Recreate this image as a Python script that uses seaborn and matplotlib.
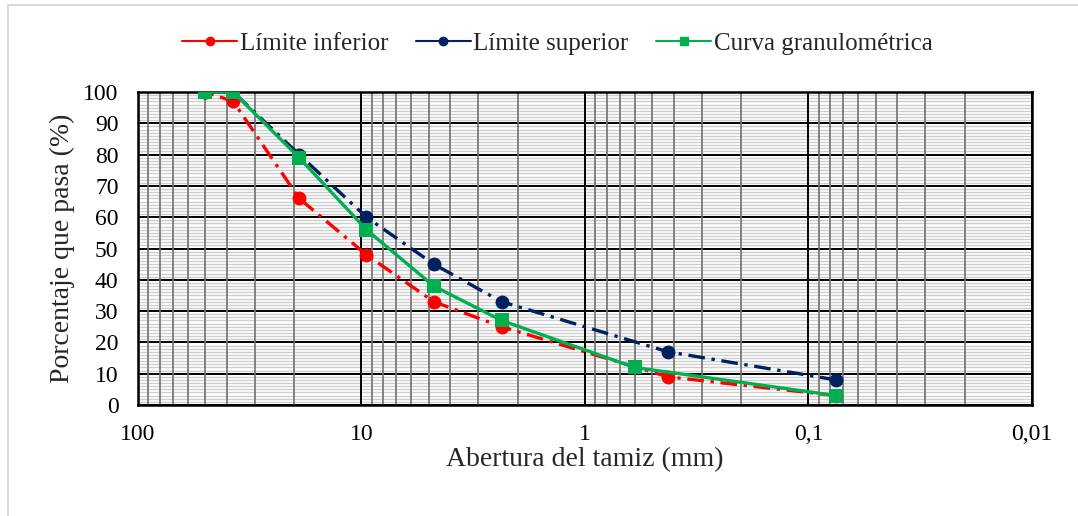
import numpy as np
import pandas as pd
import matplotlib
matplotlib.use("Agg")
import matplotlib.pyplot as plt
import seaborn as sns
from matplotlib.lines import Line2D
from matplotlib.patches import Rectangle
from matplotlib.ticker import FixedLocator, NullFormatter

# Aberturas de tamiz (mm) y porcentajes que pasan
tamiz_lim = [50, 37.5, 19, 9.5, 4.75, 2.36, 0.425, 0.075]
lim_inferior = [100, 97, 66, 48, 33, 25, 9, 3]
lim_superior = [100, 100, 80, 60, 45, 33, 17, 8]

tamiz_curva = [50, 37.5, 19, 9.5, 4.75, 2.36, 0.6, 0.075]
curva = [100, 100, 79, 56, 38, 27, 12, 3]

x_ticks = [100, 10, 1, 0.1, 0.01]
x_labels = ["100", "10", "1", "0,1", "0,01"]
y_ticks = list(range(0, 101, 10))

sns.set_style("white")
plt.rcParams['font.family'] = ['Liberation Serif', 'DejaVu Serif']

fig = plt.figure(figsize=(10.78, 5.16), dpi=100)
ax = fig.add_axes([0.128, 0.2151, 0.8293, 0.6066])

# marco exterior
fig.patches.append(Rectangle((8 / 1078, -0.1), 1.2, 1.1 - 5 / 516, transform=fig.transFigure,
                             fill=False, edgecolor='#d9d9d9', linewidth=1.5, zorder=-1))

df_inf = pd.DataFrame({'tamiz': tamiz_lim, 'pasa': lim_inferior})
df_sup = pd.DataFrame({'tamiz': tamiz_lim, 'pasa': lim_superior})
df_cur = pd.DataFrame({'tamiz': tamiz_curva, 'pasa': curva})

rojo, azul, verde = '#FF0000', '#002060', '#00B050'

sns.lineplot(data=df_inf, x='tamiz', y='pasa', ax=ax, color=rojo, linewidth=2.4,
             marker='o', markersize=10, markeredgewidth=0, zorder=3)
ax.lines[-1].set_dashes([5, 2, 1, 2])
sns.lineplot(data=df_sup, x='tamiz', y='pasa', ax=ax, color=azul, linewidth=2.4,
             marker='o', markersize=10, markeredgewidth=0, zorder=4)
ax.lines[-1].set_dashes([5, 2, 1, 2])
sns.lineplot(data=df_cur, x='tamiz', y='pasa', ax=ax, color=verde, linewidth=2.4,
             marker='s', markersize=10, markeredgewidth=0, zorder=5)

ax.set_xscale('log')
ax.set_xlim(100, 0.01)
ax.set_ylim(0, 100)

ax.xaxis.set_major_locator(FixedLocator(x_ticks))
ax.set_xticklabels(x_labels)
minors = [m * 10.0 ** e for e in range(-2, 2) for m in range(2, 10)]
ax.xaxis.set_minor_locator(FixedLocator(minors))
ax.xaxis.set_minor_formatter(NullFormatter())
ax.set_yticks(y_ticks)
ax.set_yticks(range(0, 101), minor=True)

ax.grid(which='minor', axis='y', color='#cfcfcf', linewidth=1.0)
ax.grid(which='minor', axis='x', color='#707070', linewidth=1.2)
ax.grid(which='major', axis='both', color='black', linewidth=1.4)
ax.set_axisbelow(True)
# líneas verticales por encima de las horizontales finas
ax.yaxis.set_zorder(0.4)
ax.xaxis.set_zorder(0.5)

for s in ax.spines.values():
    s.set_color('black')
    s.set_linewidth(1.8)

ax.tick_params(which='both', length=0, labelsize=17, colors='black')
ax.tick_params(axis='x', pad=14)
ax.tick_params(axis='y', pad=14)

ax.set_xlabel('Abertura del tamiz (mm)', fontsize=20, labelpad=1)
ax.set_ylabel('Porcentaje que pasa (%)', fontsize=20, labelpad=6)

handles = [
    Line2D([], [], color=rojo, linewidth=1.5, marker='o', markersize=6),
    Line2D([], [], color=azul, linewidth=1.5, marker='o', markersize=6),
    Line2D([], [], color=verde, linewidth=1.5, marker='s', markersize=6),
]
fig.legend(handles, ['Límite inferior', 'Límite superior', 'Curva granulométrica'],
           loc='center', bbox_to_anchor=(0.517, 0.916), ncol=3, frameon=False,
           fontsize=18, handlelength=2.2, handletextpad=0.1, columnspacing=1.1)

fig.savefig('out.png', dpi=100)
